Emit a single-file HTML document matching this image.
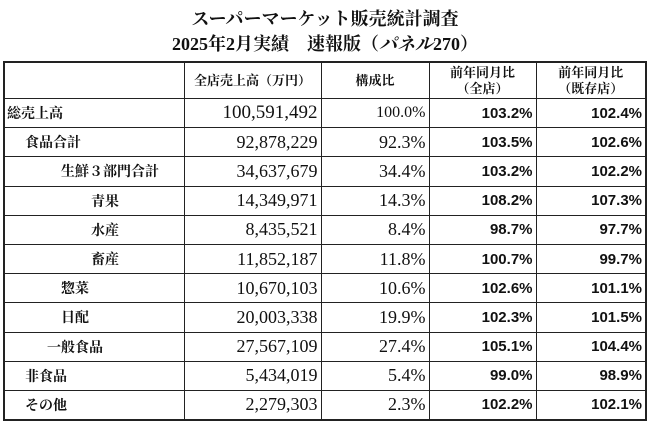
<!DOCTYPE html>
<html><head><meta charset="utf-8"><style>
body{margin:0;width:650px;height:424px;background:#fff;overflow:hidden;font-family:"Liberation Serif","Noto Serif CJK SC",serif;color:#111}
.t{position:absolute;left:0;width:650px;text-align:center;font-weight:bold;font-size:18px;line-height:22px}
table{position:absolute;left:3px;top:61px;border-collapse:collapse;width:642px;table-layout:fixed;border:2px solid #222}
td{border:1px solid #222;height:28.2px;padding:0 3px;font-size:14px;white-space:nowrap;overflow:hidden}
td.n{text-align:right}
td.b{text-align:right;font-family:"Liberation Sans",sans-serif;font-weight:bold;font-size:15px}
td.big{font-size:18px}
tr.h td{height:35px;text-align:center;font-size:13px;line-height:16px;font-weight:bold}
td.l{font-weight:bold;padding-left:2px}
</style></head><body>
<div class="t" style="top:8px">スーパーマーケット販売統計調査</div>
<div class="t" style="top:33px">2025年2月実績　速報版（<i>パネル</i>270）</div>
<table>
<colgroup><col style="width:180px"><col style="width:137px"><col style="width:108px"><col style="width:107px"><col style="width:110px"></colgroup>
<tr class="h"><td></td><td>全店売上高（万円）</td><td>構成比</td><td>前年同月比<br>（全店）</td><td>前年同月比<br>（既存店）</td></tr>
<tr><td class="l">総売上高</td><td class="n" style="font-size:19px">100,591,492</td><td class="n" style="font-size:16px">100.0%</td><td class="b">103.2%</td><td class="b">102.4%</td></tr>
<tr><td class="l" style="padding-left:20px">食品合計</td><td class="n big">92,878,229</td><td class="n big">92.3%</td><td class="b">103.5%</td><td class="b">102.6%</td></tr>
<tr><td class="l" style="padding-left:56px">生鮮３部門合計</td><td class="n big">34,637,679</td><td class="n big">34.4%</td><td class="b">103.2%</td><td class="b">102.2%</td></tr>
<tr><td class="l" style="padding-left:86px">青果</td><td class="n big">14,349,971</td><td class="n big">14.3%</td><td class="b">108.2%</td><td class="b">107.3%</td></tr>
<tr><td class="l" style="padding-left:86px">水産</td><td class="n big">8,435,521</td><td class="n big">8.4%</td><td class="b">98.7%</td><td class="b">97.7%</td></tr>
<tr><td class="l" style="padding-left:86px">畜産</td><td class="n big">11,852,187</td><td class="n big">11.8%</td><td class="b">100.7%</td><td class="b">99.7%</td></tr>
<tr><td class="l" style="padding-left:56px">惣菜</td><td class="n big">10,670,103</td><td class="n big">10.6%</td><td class="b">102.6%</td><td class="b">101.1%</td></tr>
<tr><td class="l" style="padding-left:56px">日配</td><td class="n big">20,003,338</td><td class="n big">19.9%</td><td class="b">102.3%</td><td class="b">101.5%</td></tr>
<tr><td class="l" style="padding-left:42px">一般食品</td><td class="n big">27,567,109</td><td class="n big">27.4%</td><td class="b">105.1%</td><td class="b">104.4%</td></tr>
<tr><td class="l" style="padding-left:20px">非食品</td><td class="n big">5,434,019</td><td class="n big">5.4%</td><td class="b">99.0%</td><td class="b">98.9%</td></tr>
<tr><td class="l" style="padding-left:20px">その他</td><td class="n big">2,279,303</td><td class="n big">2.3%</td><td class="b">102.2%</td><td class="b">102.1%</td></tr>
</table>
</body></html>
